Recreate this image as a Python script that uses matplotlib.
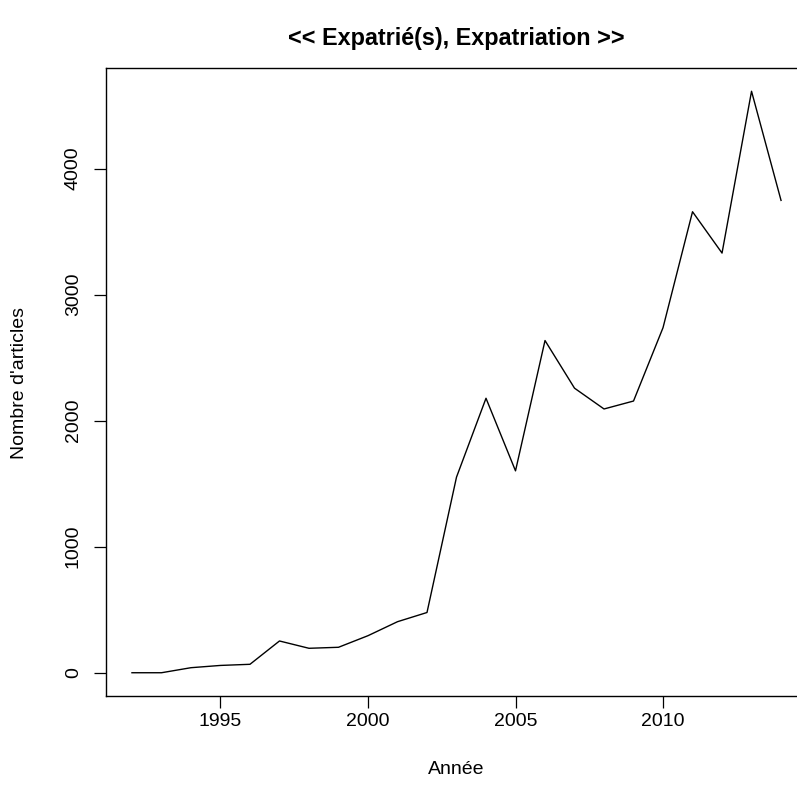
import matplotlib
matplotlib.use("Agg")
import matplotlib.pyplot as plt

years = [1992, 1993, 1994, 1995, 1996, 1997, 1998, 1999, 2000, 2001, 2002, 2003,
         2004, 2005, 2006, 2007, 2008, 2009, 2010, 2011, 2012, 2013, 2014]
articles = [0, 0, 40, 58, 67, 252, 194, 202, 294, 405, 478, 1552,
            2178, 1602, 2636, 2258, 2093, 2156, 2738, 3658, 3330, 4614, 3748]
xticks = [1995, 2000, 2005, 2010]
yticks = [0, 1000, 2000, 3000, 4000]
title = "<< Expatrié(s), Expatriation >>"
xlabel = "Année"
ylabel = "Nombre d'articles"

plt.rcParams['font.family'] = ['Liberation Sans', 'DejaVu Sans']
W, H = 797, 791
fig = plt.figure(figsize=(W / 100, H / 100), dpi=100)
L, R, T, B = 106, 807, 68, 696
ax = fig.add_axes([L / W, (H - B) / H, (R - L) / W, (B - T) / H])

ax.plot(years, articles, color='black', linewidth=1.0)
xr = max(years) - min(years)
ax.set_xlim(min(years) - 0.04 * xr, max(years) + 0.04 * xr)
yr = max(articles) - min(articles)
ax.set_ylim(min(articles) - 0.04 * yr, max(articles) + 0.04 * yr)

ax.set_xticks(xticks)
ax.set_xticklabels([str(v) for v in xticks])
ax.set_yticks(yticks)
ax.set_yticklabels([str(v) for v in yticks], rotation=90, va='center')
ax.tick_params(axis='both', direction='out', length=8.3, width=0.9,
               labelsize=14, color='black')
ax.tick_params(axis='x', pad=4)
ax.tick_params(axis='y', pad=9)
for s in ax.spines.values():
    s.set_linewidth(1.0)
    s.set_color('black')

fig.text((L + R) / 2 / W, 1 - 38 / H, title, ha='center', va='center',
         fontsize=16.8, fontweight='bold')
fig.text((L + R) / 2 / W, 1 - 770 / H, xlabel, ha='center', va='center', fontsize=14)
fig.text(20 / W, 1 - 383 / H, ylabel, ha='center', va='center', rotation=90, fontsize=14)

fig.savefig("out.png", dpi=100)
